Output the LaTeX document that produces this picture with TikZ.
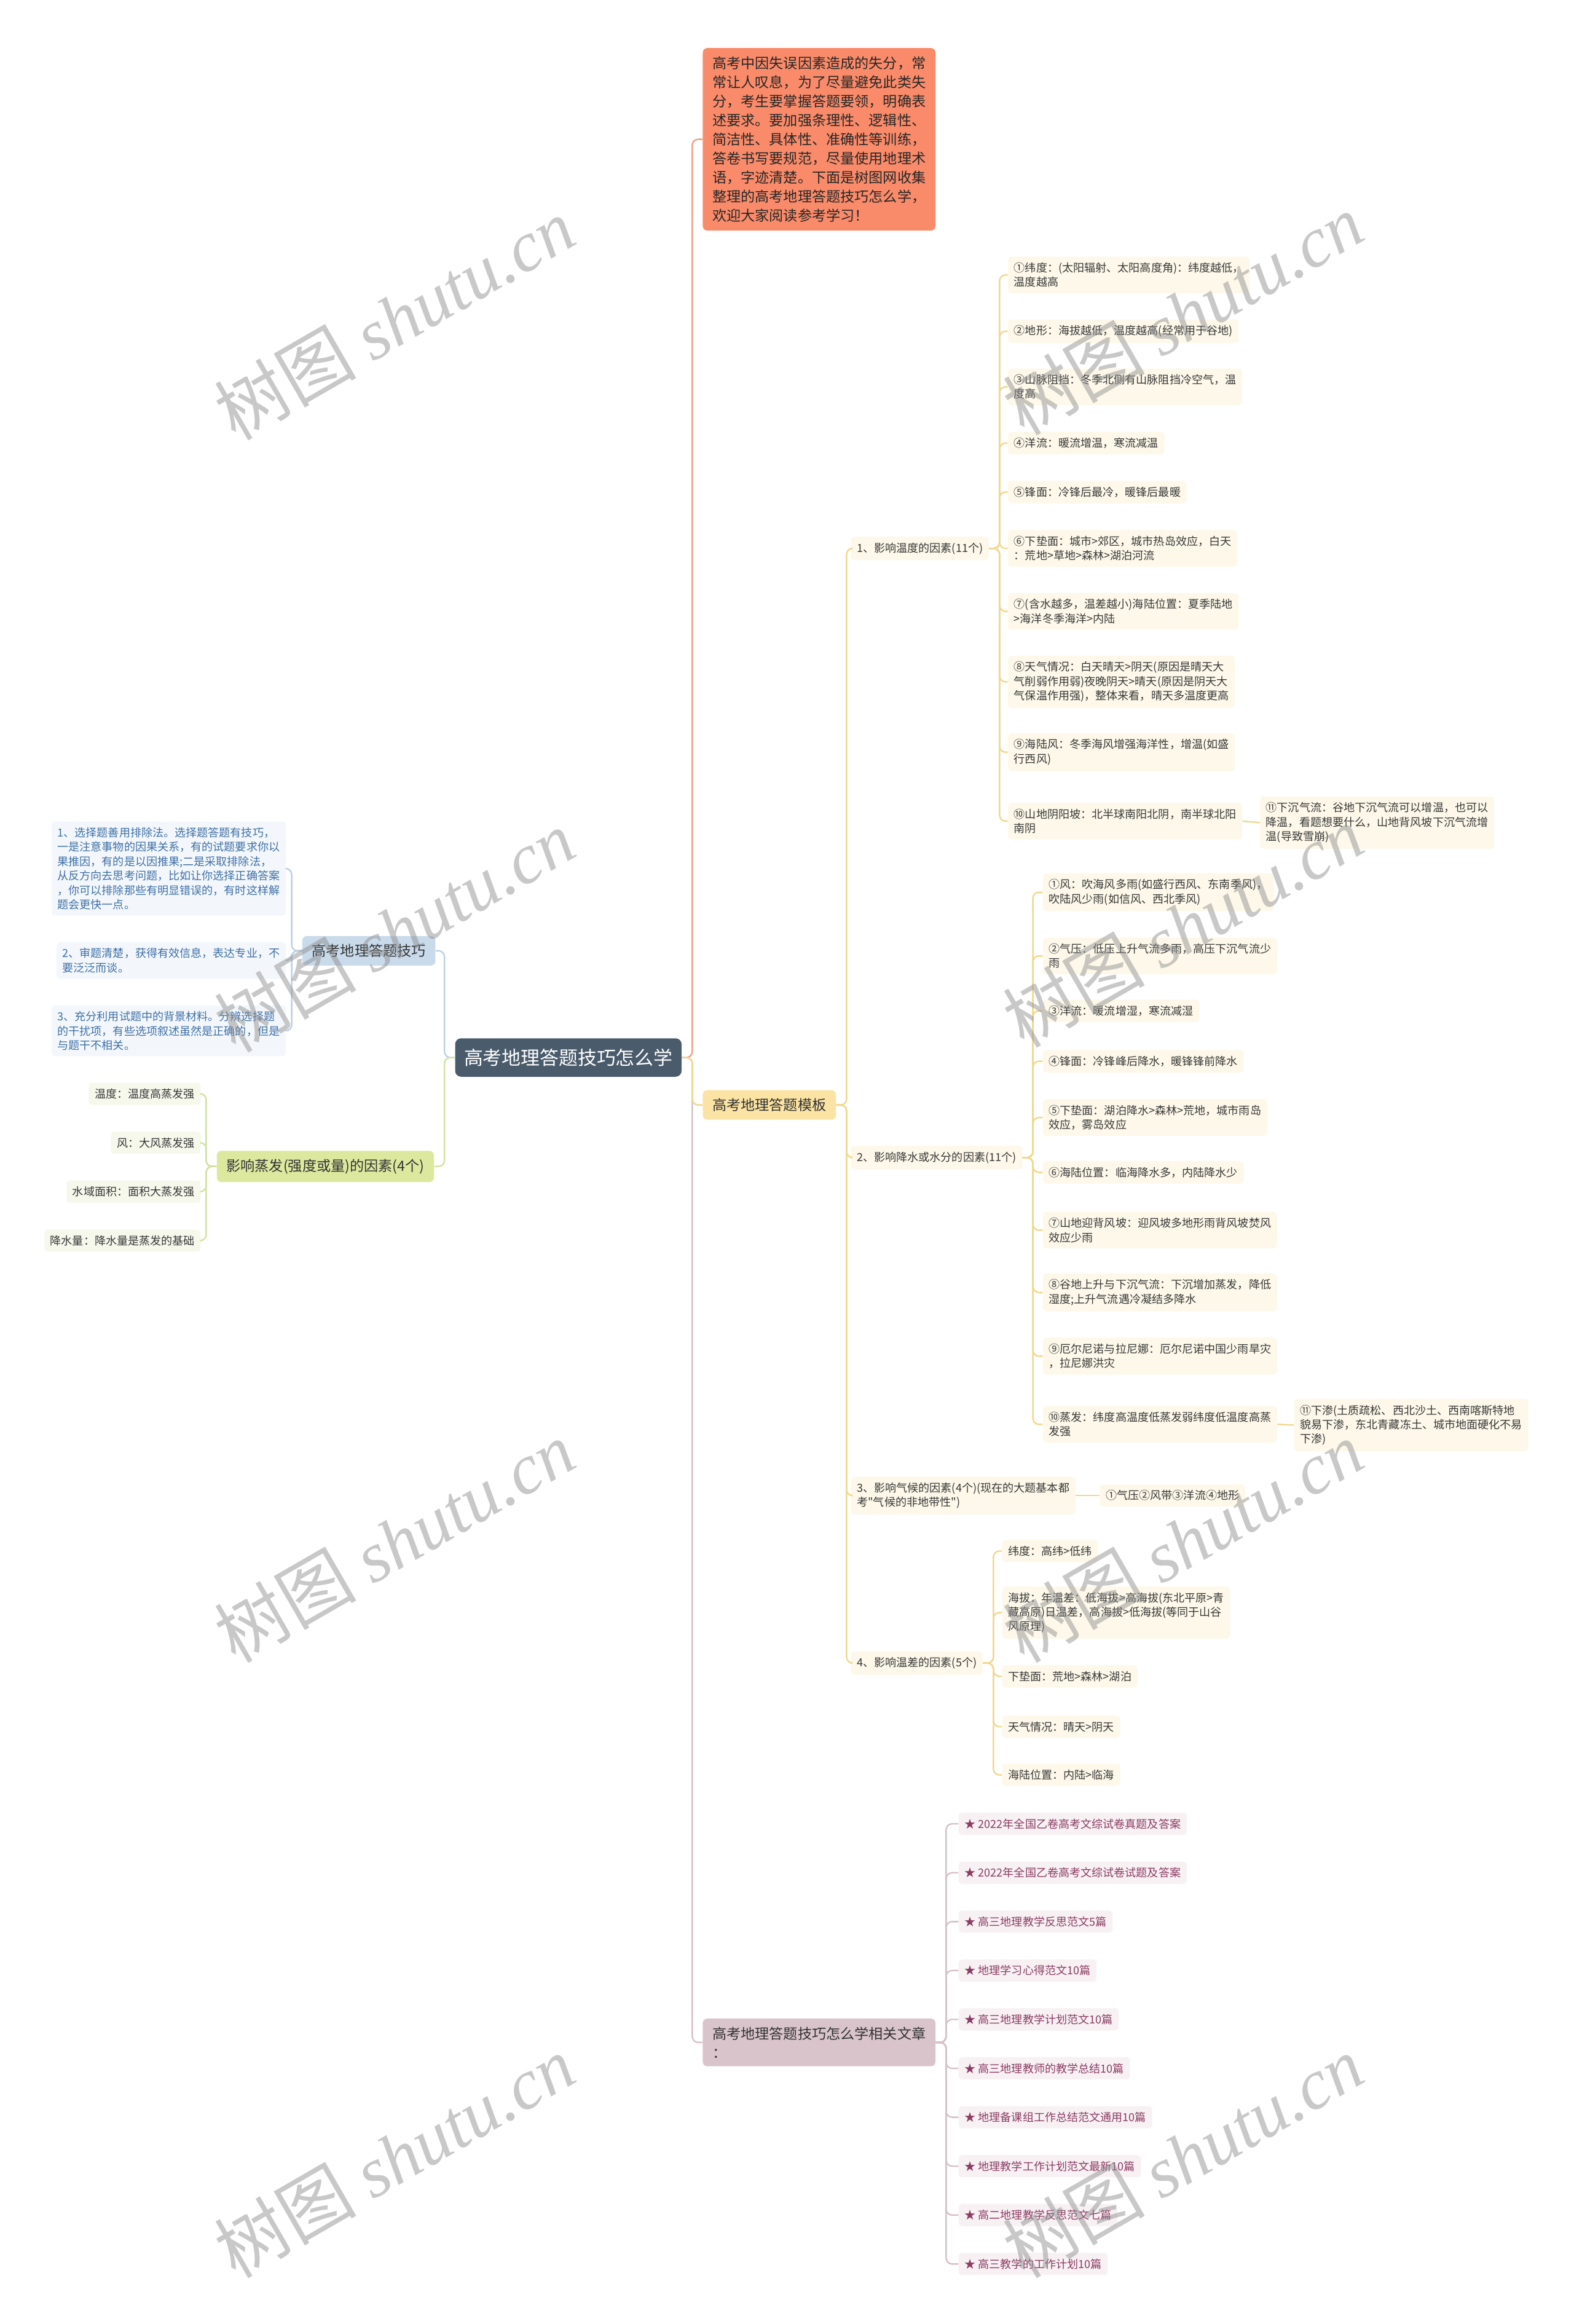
\documentclass[tikz,border=0pt]{standalone}
\usepackage{fontspec}
\usepackage{xcolor}
\newfontfamily\cjk{Noto Sans CJK SC}
\newfontfamily\wmlatin{Liberation Serif}
\usetikzlibrary{positioning, calc}

\begin{document}
\begin{tikzpicture}[
  x=1pt, y=-1pt,
  font=\cjk,
  nbox/.style={rounded corners=2.5pt, align=left, inner xsep=4pt, inner ysep=4pt,
               font=\cjk\fontsize{7.5}{9.7}\selectfont, text=black!78},
  yleaf/.style={nbox, fill=leafY},
  bleaf/.style={nbox, fill=leafB, text=txtB},
  gleaf/.style={nbox, fill=leafG},
  pleaf/.style={nbox, fill=leafP, text=txtP},
  topic/.style={rounded corners=3pt, align=left, inner xsep=6.5pt, inner ysep=5.5pt,
                font=\cjk\fontsize{9.6}{12.9}\selectfont, text=black!80},
  rootbox/.style={rounded corners=4pt, fill=rootC, text=white, inner xsep=6pt,
                  inner ysep=7pt, font=\cjk\fontsize{12.8}{15}\selectfont},
  link/.style={line width=1pt, rounded corners=4pt},
  wmark/.style={rotate=30, text=black!45, opacity=0.47,
                font=\cjk\fontsize{48}{48}\selectfont},
]
% ---------------- canvas ----------------
\useasboundingbox (0,0) rectangle (1062,1568);
\fill[white] (0,0) rectangle (1062,1568);

\definecolor{rootC}{HTML}{4A5B6C}
\definecolor{introC}{HTML}{FA8B6A}
\definecolor{tmplC}{HTML}{FBE3A3}
\definecolor{relC}{HTML}{D9C4CC}
\definecolor{tipsC}{HTML}{C9DAEB}
\definecolor{evapC}{HTML}{DCE89E}
\definecolor{leafY}{HTML}{FDF8E9}
\definecolor{leafB}{HTML}{F3F7FB}
\definecolor{leafG}{HTML}{F6F8EC}
\definecolor{leafP}{HTML}{F7F1F3}
\definecolor{txtB}{HTML}{3F70A8}
\definecolor{txtP}{HTML}{8C3C64}
\definecolor{lnO}{HTML}{F3A184}
\definecolor{lnY}{HTML}{F1D88D}
\definecolor{lnB}{HTML}{BCD0E4}
\definecolor{lnG}{HTML}{D3E29F}
\definecolor{lnP}{HTML}{D8C1CA}

\pgfmathsetmacro{\stub}{7}

% =====================================================================
% root + first level
% =====================================================================
\node[rootbox] (root) at (383.5,713.5) {高考地理答题技巧怎么学};

\node[topic, fill=introC, anchor=west, text=black!85] (intro) at (474,94)
  {高考中因失误因素造成的失分，常\\常让人叹息，为了尽量避免此类失\\分，考生要掌握答题要领，明确表\\述要求。要加强条理性、逻辑性、\\简洁性、具体性、准确性等训练，\\答卷书写要规范，尽量使用地理术\\语，字迹清楚。下面是树图网收集\\整理的高考地理答题技巧怎么学，\\欢迎大家阅读参考学习！};
\node[topic, fill=tmplC, anchor=west] (tmpl) at (474,745.5) {高考地理答题模板};
\node[topic, fill=relC, anchor=west] (rel) at (474,1378)
  {高考地理答题技巧怎么学相关文章\\：};
\node[topic, fill=tipsC, anchor=east] (tips) at (294,641.5) {高考地理答题技巧};
\node[topic, fill=evapC, anchor=east] (evap) at (293,787) {影响蒸发(强度或量)的因素(4个)};

\draw[link, lnO] (root.east) -- ++(\stub,0) |- (intro.west);
\draw[link, lnP] (root.east) -- ++(\stub,0) |- (rel.west);
\draw[link, lnY] (root.east) -- ++(\stub,0) |- (tmpl.west);
\draw[link, lnB] (root.west) -- ++(-\stub,0) |- (tips.east);
\draw[link, lnG] (root.west) -- ++(-\stub,0) |- (evap.east);

% =====================================================================
% template: four groups
% =====================================================================
\node[yleaf, anchor=west] (s1) at (574,370) {1、影响温度的因素(11个)};
\node[yleaf, anchor=west] (s2) at (574,781) {2、影响降水或水分的因素(11个)};
\node[yleaf, anchor=west] (s3) at (574,1009)
  {3、影响气候的因素(4个)(现在的大题基本都\\考"气候的非地带性")};
\node[yleaf, anchor=west] (s4) at (574,1122) {4、影响温差的因素(5个)};
\foreach \s in {s1,s2,s3,s4} {
  \draw[link, lnY] (tmpl.east) -- ++(\stub,0) |- (\s.west);
}

% ---------------- 1. temperature ----------------
\node[yleaf, anchor=west] (t1) at (680,185.5) {①纬度：(太阳辐射、太阳高度角)：纬度越低，\\温度越高};
\node[yleaf, anchor=west] (t2) at (680,223.5) {②地形：海拔越低，温度越高(经常用于谷地)};
\node[yleaf, anchor=west] (t3) at (680,261) {③山脉阻挡：冬季北侧有山脉阻挡冷空气，温\\度高};
\node[yleaf, anchor=west] (t4) at (680,299) {④洋流：暖流增温，寒流减温};
\node[yleaf, anchor=west] (t5) at (680,332) {⑤锋面：冷锋后最冷，暖锋后最暖};
\node[yleaf, anchor=west] (t6) at (680,370) {⑥下垫面：城市>郊区，城市热岛效应，白天\\：荒地>草地>森林>湖泊河流};
\node[yleaf, anchor=west] (t7) at (680,412.5) {⑦(含水越多，温差越小)海陆位置：夏季陆地\\>海洋冬季海洋>内陆};
\node[yleaf, anchor=west] (t8) at (680,460) {⑧天气情况：白天晴天>阴天(原因是晴天大\\气削弱作用弱)夜晚阴天>晴天(原因是阴天大\\气保温作用强)，整体来看，晴天多温度更高};
\node[yleaf, anchor=west] (t9) at (680,507.5) {⑨海陆风：冬季海风增强海洋性，增温(如盛\\行西风)};
\node[yleaf, anchor=west] (t10) at (680,554) {⑩山地阴阳坡：北半球南阳北阴，南半球北阳\\南阴};
\node[yleaf, anchor=west] (t11) at (850,555) {⑪下沉气流：谷地下沉气流可以增温，也可以\\降温，看题想要什么，山地背风坡下沉气流增\\温(导致雪崩)};
\foreach \i in {1,...,10} {
  \draw[link, lnY] (s1.east) -- ++(\stub,0) |- (t\i.west);
}
\draw[link, lnY] (t10.east) -- (t11.west);

% ---------------- 2. precipitation ----------------
\node[yleaf, anchor=west] (p1) at (703.5,602) {①风：吹海风多雨(如盛行西风、东南季风)，\\吹陆风少雨(如信风、西北季风)};
\node[yleaf, anchor=west] (p2) at (703.5,645) {②气压：低压上升气流多雨，高压下沉气流少\\雨};
\node[yleaf, anchor=west] (p3) at (703.5,682) {③洋流：暖流增湿，寒流减湿};
\node[yleaf, anchor=west] (p4) at (703.5,716) {④锋面：冷锋峰后降水，暖锋锋前降水};
\node[yleaf, anchor=west] (p5) at (703.5,754) {⑤下垫面：湖泊降水>森林>荒地，城市雨岛\\效应，雾岛效应};
\node[yleaf, anchor=west] (p6) at (703.5,791) {⑥海陆位置：临海降水多，内陆降水少};
\node[yleaf, anchor=west] (p7) at (703.5,830) {⑦山地迎背风坡：迎风坡多地形雨背风坡焚风\\效应少雨};
\node[yleaf, anchor=west] (p8) at (703.5,872) {⑧谷地上升与下沉气流：下沉增加蒸发，降低\\湿度;上升气流遇冷凝结多降水};
\node[yleaf, anchor=west] (p9) at (703.5,915) {⑨厄尔尼诺与拉尼娜：厄尔尼诺中国少雨旱灾\\，拉尼娜洪灾};
\node[yleaf, anchor=west] (p10) at (703.5,961) {⑩蒸发：纬度高温度低蒸发弱纬度低温度高蒸\\发强};
\node[yleaf, anchor=west] (p11) at (873,961.5) {⑪下渗(土质疏松、西北沙土、西南喀斯特地\\貌易下渗，东北青藏冻土、城市地面硬化不易\\下渗)};
\foreach \i in {1,...,10} {
  \draw[link, lnY] (s2.east) -- ++(\stub,0) |- (p\i.west);
}
\draw[link, lnY] (p10.east) -- (p11.west);

% ---------------- 3. climate ----------------
\node[yleaf, anchor=west] (c1) at (742,1009) {①气压②风带③洋流④地形};
\draw[link, lnY] (s3.east) -- (c1.west);

% ---------------- 4. temperature range ----------------
\node[yleaf, anchor=west] (d1) at (676,1046.5) {纬度：高纬>低纬};
\node[yleaf, anchor=west] (d2) at (676,1088) {海拔：年温差：低海拔>高海拔(东北平原>青\\藏高原)日温差，高海拔>低海拔(等同于山谷\\风原理)};
\node[yleaf, anchor=west] (d3) at (676,1131) {下垫面：荒地>森林>湖泊};
\node[yleaf, anchor=west] (d4) at (676,1165) {天气情况：晴天>阴天};
\node[yleaf, anchor=west] (d5) at (676,1197.5) {海陆位置：内陆>临海};
\foreach \i in {1,...,5} {
  \draw[link, lnY] (s4.east) -- ++(\stub,0) |- (d\i.west);
}

% =====================================================================
% related articles
% =====================================================================
\foreach \t [count=\i from 0] in {2022年全国乙卷高考文综试卷真题及答案,
    2022年全国乙卷高考文综试卷试题及答案, 高三地理教学反思范文5篇,
    地理学习心得范文10篇, 高三地理教学计划范文10篇, 高三地理教师的教学总结10篇,
    地理备课组工作总结范文通用10篇, 地理教学工作计划范文最新10篇,
    高二地理教学反思范文七篇, 高三教学的工作计划10篇} {
  \node[pleaf, anchor=west] (a\i) at (646.7,1230.5+33*\i) {★ \t};
  \draw[link, lnP] (rel.east) -- ++(\stub,0) |- (a\i.west);
}

% =====================================================================
% left side: tips + evaporation
% =====================================================================
\node[bleaf, anchor=east] (b1) at (193,586) {1、选择题善用排除法。选择题答题有技巧，\\一是注意事物的因果关系，有的试题要求你以\\果推因，有的是以因推果;二是采取排除法，\\从反方向去思考问题，比如让你选择正确答案\\，你可以排除那些有明显错误的，有时这样解\\题会更快一点。};
\node[bleaf, anchor=east] (b2) at (193,648) {2、审题清楚，获得有效信息，表达专业，不\\要泛泛而谈。};
\node[bleaf, anchor=east] (b3) at (193,695.5) {3、充分利用试题中的背景材料。分辨选择题\\的干扰项，有些选项叙述虽然是正确的，但是\\与题干不相关。};
\foreach \i in {1,2,3} {
  \draw[link, lnB] (tips.west) -- ++(-\stub,0) |- (b\i.east);
}

\node[gleaf, anchor=east] (g1) at (135.6,738) {温度：温度高蒸发强};
\node[gleaf, anchor=east] (g2) at (135.6,771) {风：大风蒸发强};
\node[gleaf, anchor=east] (g3) at (135.6,804) {水域面积：面积大蒸发强};
\node[gleaf, anchor=east] (g4) at (135.6,837) {降水量：降水量是蒸发的基础};
\foreach \i in {1,...,4} {
  \draw[link, lnG] (evap.west) -- ++(-\stub,0) |- (g\i.east);
}

% faint site marks on top
\foreach \wx/\wy [count=\k] in {266/215, 798/212, 266/628, 798/625,
                                266/1040, 798/1040, 266/1455, 798/1455} {
  \node[wmark] (wm\k) at (\wx,\wy) {树图 {\wmlatin\itshape shutu.cn}};
}

\end{tikzpicture}
\end{document}
